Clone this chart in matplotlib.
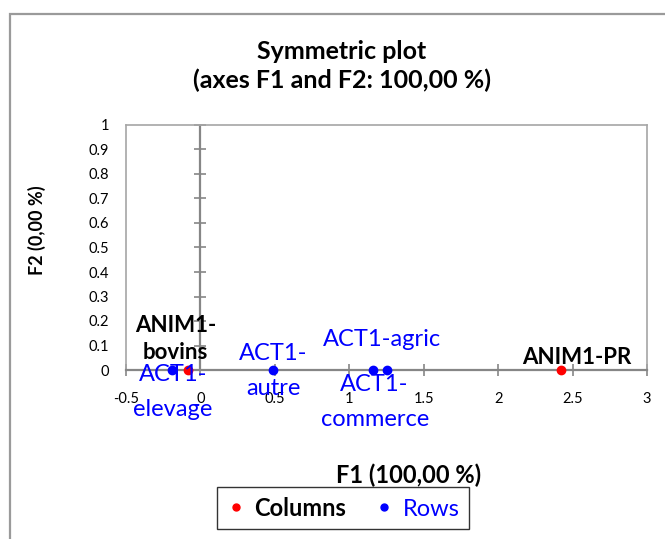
import matplotlib
matplotlib.use("Agg")
import matplotlib.pyplot as plt
from matplotlib.lines import Line2D
from matplotlib.patches import Rectangle
import numpy as np

plt.rcParams['font.family'] = ['Lato', 'DejaVu Sans']

# data
col_names = ["ANIM1-bovins", "ANIM1-PR"]
col_x = [-0.085, 2.42]
col_y = [0, 0]

row_names = ["ACT1-elevage", "ACT1-autre", "ACT1-commerce", "ACT1-agric"]
row_x = [-0.19, 0.49, 1.157, 1.25]
row_y = [0, 0, 0, 0]

x_ticks = [-0.5, 0, 0.5, 1, 1.5, 2, 2.5, 3]
y_ticks = [0, 0.1, 0.2, 0.3, 0.4, 0.5, 0.6, 0.7, 0.8, 0.9, 1]

# label text as drawn (wrapped) and offsets in pixels
col_text = ["ANIM1-\nbovins", "ANIM1-PR"]
col_off = [(-12, 31), (16, 12)]
row_text = ["ACT1-\nelevage", "ACT1-\nautre", "ACT1-\ncommerce", "ACT1-agric"]
row_off = [(1, -22), (0, -1), (2, -32), (-5, 30)]

axis_grey = '#868686'
frame_grey = '#a6a6a6'

fig = plt.figure(figsize=(6.65, 5.39), dpi=100)
# outer chart border
fig.patches.append(Rectangle((10 / 665, -0.1), 1.2, 1 - 14 / 539 + 0.1,
                             transform=fig.transFigure, fill=False,
                             edgecolor='#9a9a9a', lw=1.6))

ax = fig.add_axes([126 / 665, 1 - 370 / 539, 521 / 665, 245 / 539])
ax.set_xlim(-0.5, 3)
ax.set_ylim(0, 1)
for s in ['left', 'right', 'top']:
    ax.spines[s].set_color(frame_grey)
    ax.spines[s].set_linewidth(1.2)
ax.spines['bottom'].set_color(axis_grey)
ax.spines['bottom'].set_linewidth(1.6)

ax.set_xticks(x_ticks)
ax.set_xticklabels([f"{v:g}" for v in x_ticks])
ax.tick_params(axis='x', direction='inout', length=9, width=1.2,
               color=axis_grey, pad=11, labelsize=10.5)
ax.set_yticks(y_ticks)
ax.set_yticklabels([f"{v:g}" for v in y_ticks])
ax.tick_params(axis='y', length=0, pad=12, labelsize=10.5)

# vertical axis at x=0 with crossing ticks
ax.axvline(0, color=axis_grey, lw=1.6, zorder=1)
ax.plot(np.zeros(len(y_ticks)), y_ticks, ls='none', marker='_', ms=9,
        mew=1.2, color=axis_grey, clip_on=False, zorder=1)

ax.plot(col_x, col_y, 'o', color='#ff0000', ms=6, clip_on=False, zorder=3)
ax.plot(row_x, row_y, 'o', color='#0000ff', ms=6, clip_on=False, zorder=3)

for t, x, y, off in zip(col_text, col_x, col_y, col_off):
    ax.annotate(t, (x, y), xytext=off, textcoords='offset pixels',
                ha='center', va='center', fontsize=16, fontweight='bold',
                color='black', linespacing=1.3, annotation_clip=False)
for t, x, y, off in zip(row_text, row_x, row_y, row_off):
    ax.annotate(t, (x, y), xytext=off, textcoords='offset pixels',
                ha='center', va='center', fontsize=17, color='#0000ff',
                linespacing=1.8, annotation_clip=False)

fig.text(342 / 665, 1 - 66 / 539, "Symmetric plot\n(axes F1 and F2: 100,00 %)",
         ha='center', va='center', fontsize=18, fontweight='bold',
         linespacing=1.25)
fig.text(37 / 665, 1 - 230 / 539, "F2 (0,00 %)", rotation=90,
         ha='center', va='center', fontsize=13, fontweight='bold')
fig.text(409 / 665, 1 - 475 / 539, "F1 (100,00 %)",
         ha='center', va='center', fontsize=17, fontweight='bold')

handles = [Line2D([], [], ls='none', marker='o', color='#ff0000', ms=5),
           Line2D([], [], ls='none', marker='o', color='#0000ff', ms=5)]
leg = fig.legend(handles, ["Columns", "Rows"], ncol=2,
                 loc='center', bbox_to_anchor=(343 / 665, 1 - 508 / 539),
                 frameon=True, fancybox=False, edgecolor='black',
                 fontsize=17, handlelength=0.8, handletextpad=0.4,
                 columnspacing=1.2, borderpad=0.4)
leg.get_frame().set_linewidth(1.0)
leg.texts[0].set_fontweight('bold')
leg.texts[0].set_color('black')
leg.texts[1].set_color('#0000ff')

fig.savefig("out.png", dpi=100)
